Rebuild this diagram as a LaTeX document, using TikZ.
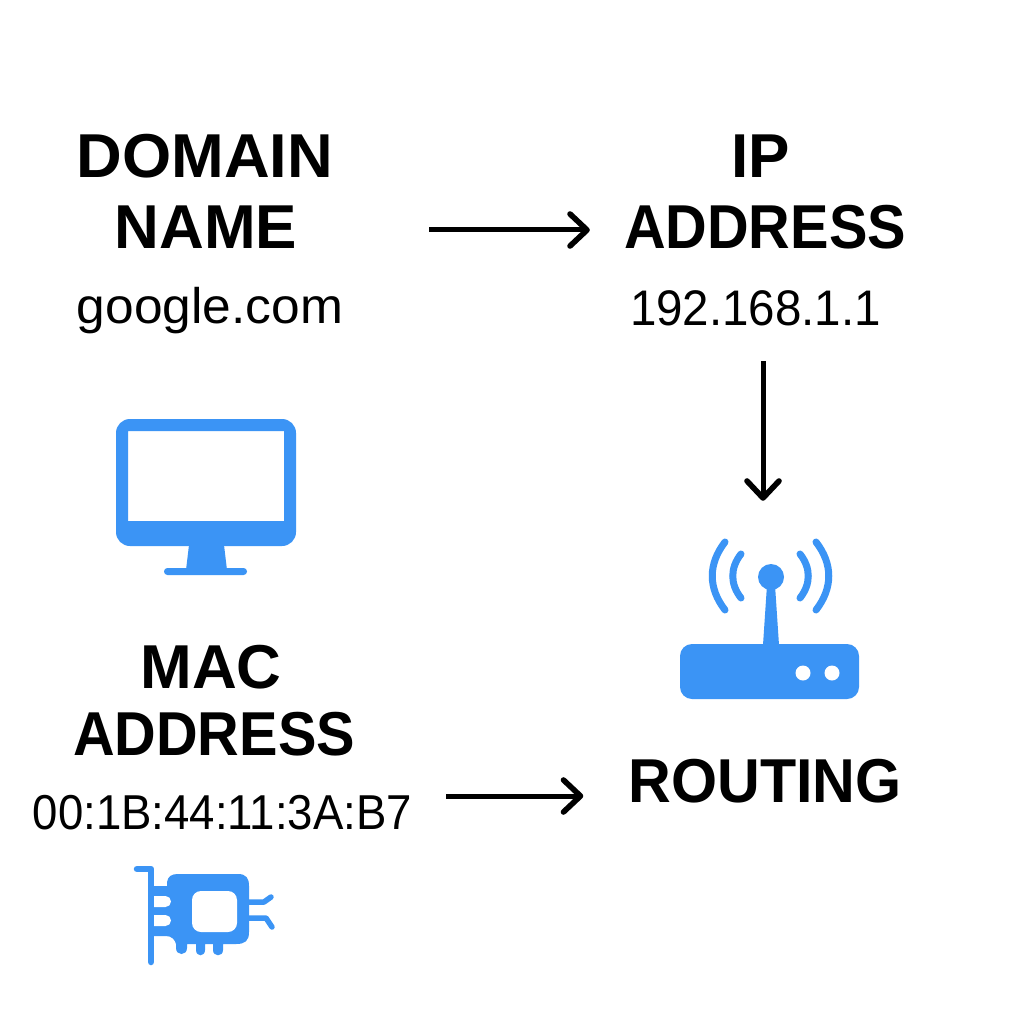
\documentclass[tikz,border=0pt]{standalone}
\usepackage{fontspec}
\setmainfont{Liberation Sans}
\definecolor{icon}{HTML}{3B94F5}
\usetikzlibrary{arrows.meta}
\tikzset{
  x=1pt,y=-1pt,
  head/.style={font=\fontsize{62}{62}\selectfont\bfseries,inner sep=0pt,anchor=base,text=black},
  val/.style={font=\fontsize{50}{50}\selectfont,inner sep=0pt,anchor=base,text=black},
  arr/.style={line width=5pt,black,-{Straight Barb[round,length=17pt,width=32pt,line width=5.6pt]}},
  ic/.style={fill=icon,draw=none},
  hole/.style={fill=white,draw=none},
  wave/.style={draw=icon,line width=7pt,line cap=round,fill=none},
  wire/.style={draw=icon,line width=5.5pt,line cap=round,line join=round,fill=none}
}
\begin{document}
\begin{tikzpicture}
\useasboundingbox (0,0) rectangle (1024,1024);
\fill[white] (0,0) rectangle (1024,1024);
% text
\node[head] (domain) at (205,178) {\scalebox{1.02}[1]{DOMAIN}};
\node[head] (name) at (206,248) {NAME};
\node[val] (google) at (210,323) {\scalebox{1.03}[1]{google.com}};
\node[head] (ip) at (761,178) {IP};
\node[head] (ipaddr) at (765,248) {\scalebox{0.93}[1]{ADDRESS}};
\node[val] (ipval) at (755.5,325) {\scalebox{0.95}[1]{192.168.1.1}};
\node[head] (mac) at (211,688) {MAC};
\node[head] (macaddr) at (214,755) {\scalebox{0.93}[1]{ADDRESS}};
\node[val,font=\fontsize{49}{49}\selectfont] (macval) at (222.5,829) {\scalebox{0.93}[1]{00:1B:44:11:3A:B7}};
\node[head] (routing) at (765,802) {\scalebox{0.955}[1]{ROUTING}};
% monitor
\fill[ic,even odd rule] (116,433) arc[start angle=180,end angle=270,radius=14] -- (282,419) arc[start angle=270,end angle=360,radius=14] -- (296,532) arc[start angle=0,end angle=90,radius=14] -- (282,546) -- (130,546) arc[start angle=90,end angle=180,radius=14] -- cycle
  (128,431) rectangle (284,521);
\fill[ic] (189,545) -- (224,545) -- (227,570) -- (186,570) -- cycle;
\fill[ic,rounded corners=3.4pt] (164,568) rectangle (247,575);
% router
\fill[ic,rounded corners=12pt] (680,644) rectangle (859,699);
\fill[hole] (803,673) circle[radius=7.5];
\fill[hole] (832,673) circle[radius=7.5];
\fill[ic] (767,585) -- (775,585) -- (779,645) -- (763,645) -- cycle;
\node[circle,ic,minimum size=26pt,inner sep=0pt] (ball) at (771,577) {};
\draw[wave] (741,554) .. controls (730,568) and (730,584) .. (741,598);
\draw[wave] (725,542) .. controls (708,564) and (708,588) .. (725,610);
\draw[wave] (800,554) .. controls (811,568) and (811,584) .. (800,598);
\draw[wave] (816,542) .. controls (833,564) and (833,588) .. (816,610);
% NIC
\fill[ic] (151,886) -- (167,886) -- (167,882) .. controls (168,876) and (172,874) .. (178,874) -- (238,874) .. controls (246,874) and (249,878) .. (249,886) -- (249,932) .. controls (249,941) and (245,944) .. (236,944) -- (223,944) -- (223,950) .. controls (223,957) and (213,957) .. (213,950) -- (213,944) -- (205,944) -- (205,950) .. controls (205,957) and (196,957) .. (196,950) -- (196,944) -- (187,944) -- (187,948) .. controls (187,956) and (176,956) .. (176,948) -- (176,944) .. controls (175,940) and (172,936) .. (166,936) -- (151,936) -- cycle;
\fill[hole,rounded corners=9pt] (192,891) rectangle (237,932);
\fill[hole] (154,896) -- (165.5,896) arc[start angle=-90,end angle=90,radius=5.5] -- (154,907) -- cycle;
\fill[hole] (154,915) -- (165.5,915) arc[start angle=-90,end angle=90,radius=5.5] -- (154,926) -- cycle;
\draw[wire,line width=6.5pt] (137,869) -- (151,869) -- (151,962);
\draw[wire] (249,902) -- (264,902) -- (271,897);
\draw[wire] (249,918) -- (266,918) -- (272,927);
% arrows
\draw[arr] ([shift={(132,-18)}]name.base east) -- ([shift={(-34,-18)}]ipaddr.base west);
\draw[arr] ([shift={(7.5,36)}]ipval.base) -- ([shift={(-8,-63)}]ball.north);
\draw[arr] ([shift={(34,-33)}]macval.base east) -- ([shift={(-45,-6)}]routing.base west);
\end{tikzpicture}
\end{document}
